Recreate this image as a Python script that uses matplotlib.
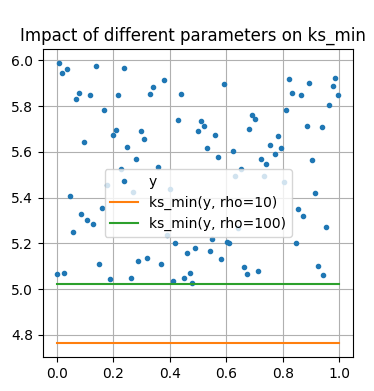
import numpy as np
import matplotlib
matplotlib.use("Agg")
import matplotlib.pyplot as plt

# sample points
x = [0.000, 0.009, 0.020, 0.027, 0.038, 0.048, 0.059, 0.069, 0.080, 0.087,
     0.098, 0.108, 0.119, 0.130, 0.140, 0.151, 0.159, 0.168, 0.179, 0.190,
     0.200, 0.211, 0.218, 0.229, 0.239, 0.250, 0.261, 0.271, 0.282, 0.289,
     0.299, 0.310, 0.321, 0.331, 0.342, 0.360, 0.370, 0.381, 0.390, 0.402,
     0.413, 0.420, 0.430, 0.441, 0.452, 0.462, 0.473, 0.480, 0.491, 0.501,
     0.512, 0.522, 0.533, 0.544, 0.551, 0.561, 0.572, 0.583, 0.593, 0.604,
     0.611, 0.622, 0.632, 0.643, 0.653, 0.664, 0.675, 0.682, 0.692, 0.703,
     0.714, 0.724, 0.735, 0.742, 0.753, 0.774, 0.784, 0.795, 0.806, 0.813,
     0.823, 0.834, 0.845, 0.855, 0.866, 0.873, 0.884, 0.894, 0.905, 0.915,
     0.926, 0.937, 0.944, 0.954, 0.965, 0.976, 0.986, 0.997]
y = [5.066, 5.987, 5.943, 5.070, 5.961, 5.406, 5.250, 5.830, 5.856, 5.329,
     5.642, 5.303, 5.847, 5.285, 5.974, 5.109, 5.355, 5.782, 5.454, 5.045,
     5.672, 5.694, 5.847, 5.525, 5.965, 5.620, 5.048, 5.424, 5.568, 5.122,
     5.690, 5.655, 5.135, 5.852, 5.882, 5.533, 5.109, 5.913, 5.236, 5.439,
     5.036, 5.201, 5.738, 5.852, 5.048, 5.157, 5.070, 5.026, 5.179, 5.690,
     5.734, 5.712, 5.616, 5.166, 5.218, 5.672, 5.576, 5.131, 5.895, 5.205,
     5.201, 5.603, 5.493, 5.266, 5.525, 5.096, 5.066, 5.699, 5.760, 5.742,
     5.079, 5.568, 5.493, 5.546, 5.629, 5.590, 5.668, 5.616, 5.467, 5.782,
     5.917, 5.856, 5.201, 5.349, 5.847, 5.319, 5.712, 5.900, 5.563, 5.419,
     5.100, 5.707, 5.061, 5.271, 5.803, 5.886, 5.921, 5.847]

# aggregated minimum for two rho values
line_x = [0.0, 1.0]
ks_rho10 = 4.765
ks_rho100 = 5.024

fig = plt.figure(figsize=(3.74, 3.91), dpi=100)
ax = fig.add_axes([0.114, 0.087, 0.831, 0.787])

ax.plot(x, y, '.', label='y')
ax.plot(line_x, [ks_rho10] * len(line_x), label='ks_min(y, rho=10)')
ax.plot(line_x, [ks_rho100] * len(line_x), label='ks_min(y, rho=100)')

ax.legend(loc='center')
ax.grid()
ax.set_title("Impact of different parameters on ks_min", x=0.482)

fig.savefig("out.png", dpi=100)
